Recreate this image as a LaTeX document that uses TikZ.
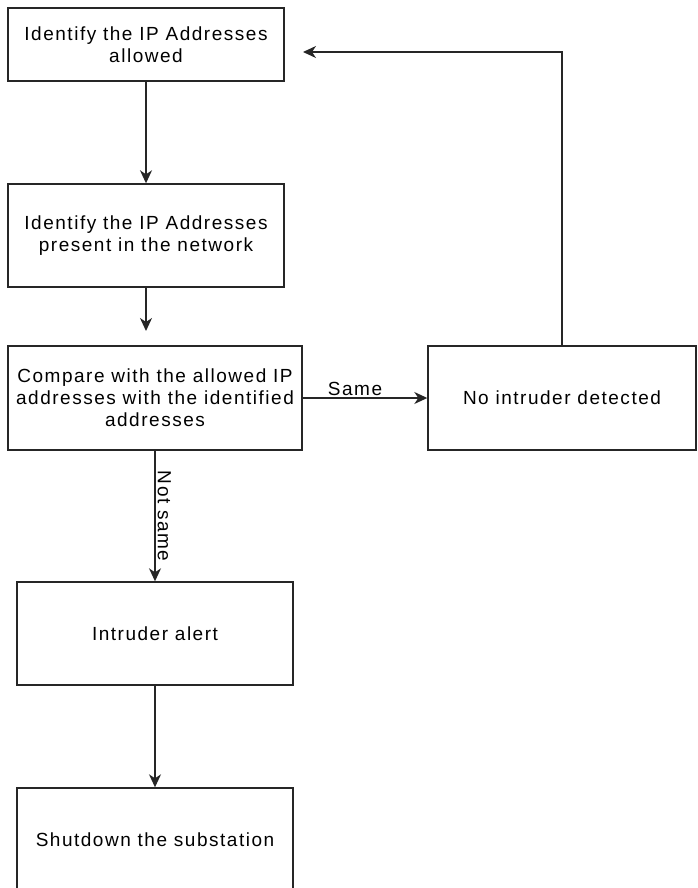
\documentclass[tikz,border=0pt]{standalone}
\usepackage{fontspec}
\setmainfont{Liberation Sans}[LetterSpace=8]
\usetikzlibrary{arrows.meta}
\tikzset{
  box/.style={draw=black!85, line width=1.4pt, align=center, inner sep=0pt,
    font=\fontsize{19}{22}\selectfont},
  flow/.style={draw=black!85, line width=1.6pt, -{Stealth[length=13pt,width=12pt,inset=4pt]}},
  lbl/.style={font=\fontsize{19}{22}\selectfont, inner sep=2pt},
}
\begin{document}
\begin{tikzpicture}[x=1pt,y=-1pt]
  \useasboundingbox (0,0) rectangle (697,888);
  \node[box, minimum width=276pt, minimum height=73pt]  (allowed) at (146,44.5) {Identify the IP Addresses\\allowed};
  \node[box, minimum width=276pt, minimum height=103pt] (present) at (146,235.5) {Identify the IP Addresses\\present in the network};
  \node[box, minimum width=294pt, minimum height=104pt] (compare) at (155,398) {Compare with the allowed IP\\addresses with the identified\\addresses};
  \node[box, minimum width=268pt, minimum height=104pt] (nointr) at (562,398) {No intruder detected};
  \node[box, minimum width=276pt, minimum height=103pt] (alert)   at (155,633.5) {Intruder alert};
  \node[box, minimum width=276pt, minimum height=103pt] (shutdown) at (155,839.5) {Shutdown the substation};
  \coordinate (presentend) at (146,331);
  \coordinate (backend) at (303,52);
  \draw[flow] (allowed) -- (present);
  \draw[flow] (present) -- (presentend);
  \draw[flow] (compare) -- node[lbl, above, pos=0.42]{Same} (nointr);
  \draw[flow] (compare.south) -- node[lbl, midway, rotate=-90, anchor=south]{Not same} (compare.south |- alert.north);
  \draw[flow] (alert) -- (shutdown);
  \draw[flow] (nointr.north) |- (backend);
\end{tikzpicture}
\end{document}
